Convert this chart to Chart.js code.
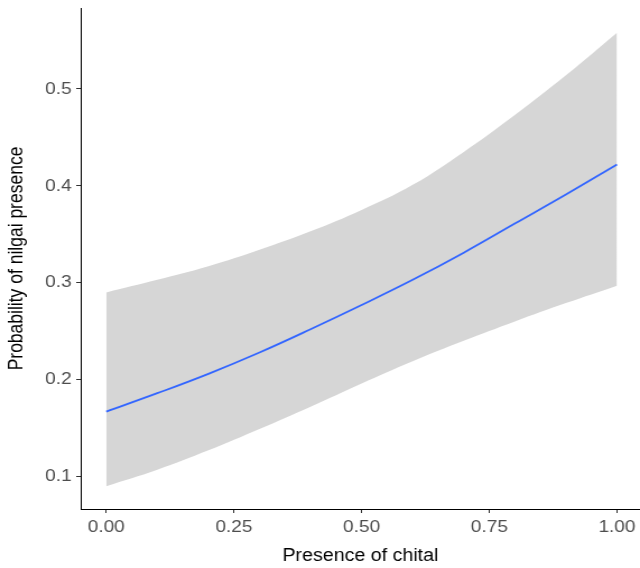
<!DOCTYPE html>
<html>
<head>
<meta charset="utf-8">
<script src="https://cdn.jsdelivr.net/npm/chart.js@4/dist/chart.umd.min.js"></script>
<style>
  html, body { margin: 0; padding: 0; background: #ffffff; }
  /* the reference image is a little wider than it is tall, so the canvas is stretched */
  #grafico { display: block; width: 640px; height: 568px; }
</style>
</head>
<body>
<canvas id="grafico" width="571" height="568" style="width:640px;height:568px"></canvas>
<script>
// presence of chital (x) and fitted probability of nilgai presence
const chital = [0, 0.1, 0.2, 0.3, 0.4, 0.5, 0.6, 0.7, 0.8, 0.9, 1.0];
const ajuste = [0.167, 0.186, 0.206, 0.228, 0.252, 0.277, 0.303, 0.331, 0.361, 0.391, 0.422];
const limiteInf = [0.090, 0.107, 0.127, 0.149, 0.172, 0.196, 0.219, 0.240, 0.260, 0.279, 0.297];
const limiteSup = [0.290, 0.303, 0.317, 0.334, 0.353, 0.375, 0.401, 0.435, 0.473, 0.514, 0.558];
const ticksX = [0, 0.25, 0.5, 0.75, 1.0];
const ticksY = [0.1, 0.2, 0.3, 0.4, 0.5];

const pontos = (ys) => chital.map((x, i) => ({ x: x, y: ys[i] }));

const corTick = "#4d4d4d";
const fonte = "'Liberation Sans', Arial, sans-serif";

const canvas = document.getElementById("grafico");

new Chart(canvas.getContext("2d"), {
  type: "line",
  data: {
    datasets: [
      {
        label: "ajuste",
        data: pontos(ajuste),
        borderColor: "#3366ff",
        borderWidth: 1.8,
        pointRadius: 0,
        tension: 0.4,
        fill: false,
        order: 0,
      },
      {
        label: "inf",
        data: pontos(limiteInf),
        borderWidth: 0,
        pointRadius: 0,
        tension: 0.4,
        fill: false,
        order: 2,
      },
      {
        label: "sup",
        data: pontos(limiteSup),
        borderWidth: 0,
        pointRadius: 0,
        tension: 0.4,
        backgroundColor: "#d6d6d6",
        fill: "-1",
        order: 1,
      },
    ],
  },
  options: {
    responsive: false,
    animation: false,
    devicePixelRatio: 1,
    layout: { padding: { left: 0, right: 0, top: 8, bottom: 0 } },
    plugins: {
      legend: { display: false },
      tooltip: { enabled: false },
    },
    scales: {
      x: {
        type: "linear",
        min: -0.05,
        max: 1.045,
        afterBuildTicks: (s) => { s.ticks = ticksX.map(v => ({ value: v })); },
        afterFit: (s) => { s.height = 59; },
        border: { display: true, color: "#000000", width: 1 },
        grid: { drawOnChartArea: false, drawTicks: true, tickLength: 4, color: "#333333" },
        ticks: {
          color: corTick,
          font: { family: fonte, size: 17 },
          padding: 4,
          maxRotation: 0,
          callback: (v) => Number(v).toFixed(2),
        },
        title: {
          display: true,
          text: "Presence of chital",
          color: "#000000",
          font: { family: fonte, size: 17.5 },
          padding: { top: 4, bottom: 1 },
        },
      },
      y: {
        type: "linear",
        min: 0.0665,
        max: 0.5835,
        afterBuildTicks: (s) => { s.ticks = ticksY.map(v => ({ value: v })); },
        afterFit: (s) => {
          s.width = 72;
          s.paddingTop = 0;
          s.paddingBottom = 0;
        },
        border: { display: true, color: "#000000", width: 1 },
        grid: { drawOnChartArea: false, drawTicks: true, tickLength: 4, color: "#333333" },
        ticks: {
          color: corTick,
          font: { family: fonte, size: 17 },
          padding: 4,
          callback: (v) => Number(v).toFixed(1),
        },
        title: {
          display: true,
          text: "Probability of nilgai presence",
          color: "#000000",
          font: { family: fonte, size: 17.5 },
          padding: { top: 5, bottom: 4 },
        },
      },
    },
  },
});

canvas.style.width = "640px";
canvas.style.height = "568px";
</script>
</body>
</html>
